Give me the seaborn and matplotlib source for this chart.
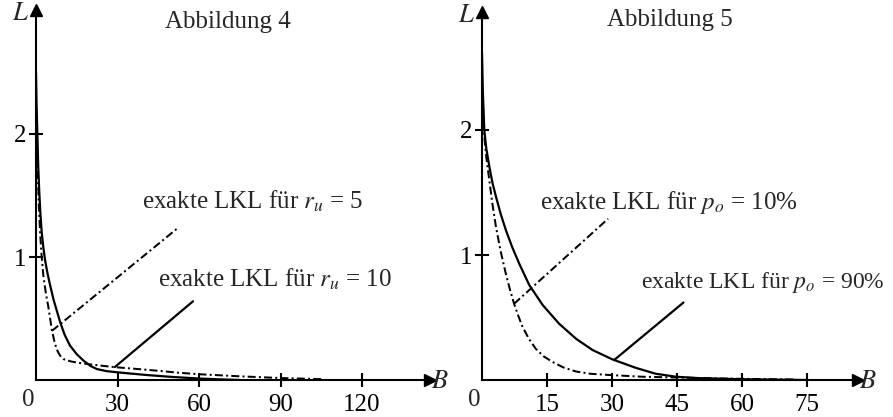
import numpy as np
import pandas as pd
import matplotlib
matplotlib.use("Agg")
import matplotlib.pyplot as plt
import seaborn as sns

# ---------------- data ----------------
# Abbildung 4
b4_ru10 = [0, 0.2, 0.5, 0.8, 1.2, 1.6, 2.1, 2.7, 3.3, 4.2, 5.2, 6.5, 7.7, 8.9, 10.5, 12.5, 15, 17.5, 20, 22.4, 26, 29.8, 35, 41, 50, 60, 68, 75]
l4_ru10 = [2.5, 2.25, 2.0, 1.75, 1.53, 1.36, 1.2, 1.08, 0.98, 0.87, 0.77, 0.65, 0.56, 0.47, 0.37, 0.28, 0.21, 0.157, 0.115, 0.089, 0.072, 0.063, 0.052, 0.04, 0.025, 0.012, 0.005, 0.0]
b4_ru5 = [0.25, 0.5, 1.0, 1.5, 2.1, 2.7, 3.6, 4.5, 5.2, 5.8, 6.7, 7.6, 8.8, 10.1, 13, 16.2, 20, 25, 29.8, 37, 45, 52, 60, 75, 90, 105]
l4_ru5 = [2.1, 1.8, 1.45, 1.2, 1.0, 0.85, 0.71, 0.6, 0.5, 0.41, 0.32, 0.25, 0.2, 0.17, 0.15, 0.138, 0.127, 0.114, 0.103, 0.09, 0.075, 0.06, 0.047, 0.03, 0.016, 0.007]

# Abbildung 5
b5_po90 = [0, 0.2, 0.53, 1.0, 1.68, 2.4, 3.2, 4.3, 5.5, 7.0, 8.6, 10.9, 14, 17.8, 21.7, 25.5, 30.1, 35.5, 40.1, 44.8, 50, 60, 70, 75]
l5_po90 = [2.62, 2.3, 2.0, 1.85, 1.71, 1.58, 1.47, 1.33, 1.2, 1.06, 0.93, 0.76, 0.6, 0.45, 0.33, 0.24, 0.165, 0.097, 0.05, 0.026, 0.015, 0.006, 0.002, 0.0]
b5_po10 = [0.2, 0.53, 1.0, 1.68, 2.4, 3.2, 4.3, 5.5, 6.4, 7.4, 8.3, 9.3, 10.8, 12.4, 14.2, 16.2, 18.8, 21.7, 25, 29.4, 37.1, 44.8, 55, 65, 72]
l5_po10 = [2.2, 1.95, 1.78, 1.6, 1.41, 1.23, 1.03, 0.85, 0.73, 0.61, 0.52, 0.43, 0.33, 0.25, 0.19, 0.146, 0.1, 0.068, 0.05, 0.04, 0.026, 0.02, 0.012, 0.007, 0.004]

# tick values / labels
x4_ticks = [30, 60, 90, 120]
x5_ticks = [15, 30, 45, 60, 75]
y_ticks = [1, 2]
titles = ["Abbildung 4", "Abbildung 5"]
labels4 = ["exakte LKL für $r_u$ = 5", "exakte LKL für $r_u$ = 10"]
labels5 = ["exakte LKL für $p_o$ = 10%", "exakte LKL für $p_o$ = 90%"]

# leader lines (start on curve, end near label)
lead4_ru5 = ([5.9, 51.9], [0.40, 1.23])
lead4_ru10 = ([29.0, 57.8], [0.105, 0.64])
lead5_po10 = ([7.4, 29.1], [0.61, 1.29])
lead5_po90 = ([30.5, 46.5], [0.16, 0.62])

# ---------------- style ----------------
sns.set_style("white")
plt.rcParams["font.family"] = ["Liberation Serif", "DejaVu Serif"]
plt.rcParams["mathtext.fontset"] = "stix"
FS = 18

fig = plt.figure(figsize=(8.93, 4.17), dpi=100)
W, H = 893, 417

def make_ax(left_px, axis_y_px, right_px, top_px):
    return fig.add_axes([left_px / W, (H - axis_y_px) / H,
                         (right_px - left_px) / W, (axis_y_px - top_px) / H])

ax4 = make_ax(36, 380, 430, 10)
ax5 = make_ax(482, 380, 858, 12)
ax4.set_xlim(0, 394 / (81.5 / 30))
ax4.set_ylim(0, 370 / 123)
ax5.set_xlim(0, 376 / (65 / 15))
ax5.set_ylim(0, 368 / 125)

DASHDOT = (0, (4, 1.6, 1, 1.6))
LW = 1.6

def curves(ax, bs, ls, b2, l2):
    df1 = pd.DataFrame({"B": bs, "L": ls})
    df2 = pd.DataFrame({"B": b2, "L": l2})
    sns.lineplot(data=df1, x="B", y="L", ax=ax, color="black", lw=LW, sort=False)
    sns.lineplot(data=df2, x="B", y="L", ax=ax, color="black", lw=LW * 0.9,
                 linestyle=DASHDOT, sort=False)

curves(ax4, b4_ru10, l4_ru10, b4_ru5, l4_ru5)
curves(ax5, b5_po90, l5_po90, b5_po10, l5_po10)

ax4.plot(*lead4_ru5, color="black", lw=LW * 0.9, linestyle=DASHDOT)
ax4.plot(*lead4_ru10, color="black", lw=LW)
ax5.plot(*lead5_po10, color="black", lw=LW * 0.9, linestyle=DASHDOT)
ax5.plot(*lead5_po90, color="black", lw=LW)

for ax, xt in [(ax4, x4_ticks), (ax5, x5_ticks)]:
    for s in ["top", "right"]:
        ax.spines[s].set_visible(False)
    for s in ["left", "bottom"]:
        ax.spines[s].set_linewidth(1.5)
        ax.spines[s].set_color("black")
    ax.set_xticks(xt)
    ax.set_xticklabels([str(v) for v in xt])
    ax.set_yticks(y_ticks)
    ax.set_yticklabels([str(v) for v in y_ticks])
    ax.tick_params(axis="both", direction="inout", length=10, width=1.5,
                   labelsize=FS, colors="black", bottom=True, left=True)
    ax.tick_params(axis="x", pad=5)
    ax.tick_params(axis="y", pad=2)
    ax.set_xlabel("")
    ax.set_ylabel("")
    ax.patch.set_alpha(0)
    # arrow heads
    ax.plot(1, 0, marker=">", color="black", ms=8, transform=ax.transAxes, clip_on=False)
    ax.plot(0, 1, marker="^", color="black", ms=8, transform=ax.transAxes, clip_on=False)
    # origin label
    ax.annotate("0", xy=(0, 0), xytext=(-8, -20), textcoords="offset pixels",
                ha="center", va="center", fontsize=FS)
    ax.annotate("$L$", xy=(0, 1), xycoords="axes fraction", xytext=(-16, -4),
                textcoords="offset pixels", ha="center", va="center", fontsize=FS + 1)
    ax.annotate("$B$", xy=(1, 0), xycoords="axes fraction", xytext=(10, -2),
                textcoords="offset pixels", ha="center", va="center", fontsize=FS + 1)

ax4.text(39, 1.45, labels4[0], fontsize=FS, ha="left", va="center")
ax4.text(45, 0.82, labels4[1], fontsize=FS, ha="left", va="center")
ax5.text(13.4, 1.42, labels5[0], fontsize=FS, ha="left", va="center")
ax5.text(36.6, 0.78, labels5[1], fontsize=FS - 1, ha="left", va="center")

fig.text(228 / W, 1 - 22 / H, titles[0], fontsize=FS, ha="center", va="center")
fig.text(670 / W, 1 - 20 / H, titles[1], fontsize=FS, ha="center", va="center")

fig.savefig("out.png", dpi=100)
